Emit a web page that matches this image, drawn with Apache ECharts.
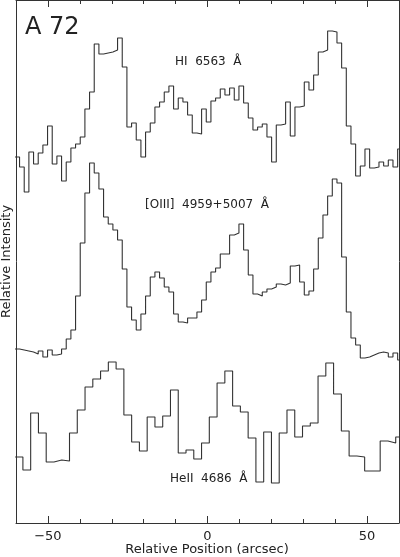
<!DOCTYPE html>
<html>
<head>
<meta charset="UTF-8">
<title>A 72 slit profiles</title>
<script src="https://cdn.jsdelivr.net/npm/echarts@6/dist/echarts.min.js"></script>
<style>
html, body { margin: 0; padding: 0; background: #fff; }
#chart { width: 400px; height: 557px; }
</style>
</head>
<body>
<div id="chart"></div>
<script>
// bin grids along the slit (arcsec): first bin edge and bin width
var fineStart = -60.35, fineWidth = 1.4625;
var heStart = -60.27, heWidth = 2.4335;

// relative intensity per bin (offset so the three profiles stack)
var hiValues = [366, 356, 331, 371, 359, 370, 378, 397, 359, 367, 342, 361, 375, 379, 386, 414,
  431, 479, 469, 470, 471, 473, 485, 456, 396, 400, 383, 366, 391, 400, 416, 421,
  431, 437, 414, 425, 421, 408, 390, 389, 414, 401, 422, 425, 434, 428, 435, 423,
  437, 420, 405, 393, 396, 399, 386, 361, 398, 399, 421, 387, 416, 417, 441, 433,
  448, 471, 473, 492, 491, 480, 455, 397, 379, 347, 357, 374, 355, 356, 361, 357,
  363, 356, 374];

var oiiiValues = [174, 173, 172, 171, 169, 172, 166, 173, 168, 169, 174, 184, 193, 227, 280, 330,
  360, 350, 334, 306, 299, 293, 283, 254, 216, 203, 193, 209, 227, 246, 251, 245,
  236, 231, 209, 201, 200, 205, 205, 211, 223, 241, 251, 255, 269, 269, 288, 290,
  299, 273, 248, 229, 227, 231, 234, 236, 239, 238, 240, 257, 258, 241, 228, 232,
  254, 285, 308, 327, 344, 340, 266, 211, 185, 178, 165, 166, 168, 170, 171, 170,
  166, 170, 163];

var heiiValues = [66, 53, 110, 90, 61, 63, 62, 90, 113, 136, 144, 152, 161, 154, 108, 81,
  72, 106, 96, 107, 133, 70, 73, 64, 80, 106, 140, 152, 117, 111, 85, 41,
  91, 40, 90, 113, 86, 97, 100, 147, 160, 129, 92, 67, 66, 52, 52, 82,
  80, 86];

var xTickLabels = [-50, 0, 50];

var font = 'DejaVu Sans';
var ink = '#222';

function toSteps(start, width, values) {
  var pts = [];
  for (var i = 0; i < values.length; i++) {
    pts.push([start + i * width, values[i]]);
  }
  pts.push([start + values.length * width, values[values.length - 1]]);
  return pts;
}

function profile(name, start, width, values) {
  return {
    name: name,
    type: 'line',
    step: 'end',
    symbol: 'none',
    clip: true,
    lineStyle: { color: '#333', width: 1.1 },
    data: toSteps(start, width, values)
  };
}

var myChart = echarts.init(document.getElementById('chart'));

var lineStyle = { color: '#333', width: 1 };

var option = {
  animation: false,
  backgroundColor: '#fff',
  grid: { left: 16, right: 1, top: 0, bottom: 34, outerBoundsMode: 'none' },
  xAxis: [{
    type: 'value', position: 'bottom', min: -60, max: 60, interval: 10,
    splitLine: { show: false },
    axisLine: { show: true, onZero: false, lineStyle: lineStyle },
    axisTick: { show: true, inside: true, length: 4, lineStyle: lineStyle },
    axisLabel: {
      customValues: xTickLabels,
      formatter: function (v) { return v < 0 ? '\u2212' + Math.abs(v) : '' + v; },
      fontFamily: font, fontSize: 13, color: ink, margin: 7
    }
  }, {
    type: 'value', position: 'bottom', min: -60, max: 60,
    splitLine: { show: false },
    axisLine: { show: false, onZero: false },
    axisTick: { show: true, inside: true, length: 7, customValues: xTickLabels, lineStyle: lineStyle },
    axisLabel: { show: false }
  }, {
    type: 'value', position: 'top', min: -60, max: 60, interval: 10,
    splitLine: { show: false },
    axisLine: { show: true, onZero: false, lineStyle: lineStyle },
    axisTick: { show: true, inside: true, length: 4, lineStyle: lineStyle },
    axisLabel: { show: false }
  }, {
    type: 'value', position: 'top', min: -60, max: 60,
    splitLine: { show: false },
    axisLine: { show: false, onZero: false },
    axisTick: { show: true, inside: true, length: 7, customValues: xTickLabels, lineStyle: lineStyle },
    axisLabel: { show: false }
  }],
  yAxis: [{
    type: 'value', position: 'left', min: 0, max: 523,
    splitLine: { show: false },
    axisLine: { show: true, onZero: false, lineStyle: lineStyle },
    axisTick: { show: false },
    axisLabel: { show: false },
    name: 'Relative Intensity',
    nameLocation: 'middle', nameGap: 3,
    nameTextStyle: { fontFamily: font, fontSize: 13, color: ink }
  }, {
    type: 'value', position: 'right', min: 0, max: 523,
    splitLine: { show: false },
    axisLine: { show: true, onZero: false, lineStyle: lineStyle },
    axisTick: { show: false },
    axisLabel: { show: false }
  }],
  graphic: [
    { type: 'text', left: 25, top: 16, style: { text: 'A 72', font: '24px ' + font, fill: ink } },
    { type: 'text', x: 207, y: 550, style: { text: 'Relative Position (arcsec)', font: '13px ' + font, fill: ink, align: 'center', verticalAlign: 'middle' } },
    { type: 'text', x: 175, y: 62, style: { text: 'HI  6563  \u00c5', font: '12px ' + font, fill: ink, verticalAlign: 'middle' } },
    { type: 'text', x: 145, y: 205, style: { text: '[OIII]  4959+5007  \u00c5', font: '12px ' + font, fill: ink, verticalAlign: 'middle' } },
    { type: 'text', x: 170, y: 479, style: { text: 'HeII  4686  \u00c5', font: '12px ' + font, fill: ink, verticalAlign: 'middle' } }
  ],
  series: [
    profile('HI 6563', fineStart, fineWidth, hiValues),
    profile('[OIII] 4959+5007', fineStart, fineWidth, oiiiValues),
    profile('HeII 4686', heStart, heWidth, heiiValues)
  ]
};

myChart.setOption(option);
</script>
</body>
</html>
